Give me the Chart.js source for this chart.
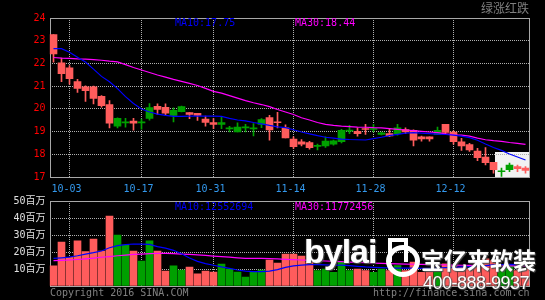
<!DOCTYPE html>
<html>
<head>
<meta charset="utf-8">
<script src="https://cdn.jsdelivr.net/npm/chart.js@4.4.0/dist/chart.umd.min.js"></script>
<style>
    html, body { margin: 0; padding: 0; background: #000; }
    #wrap { position: relative; width: 545px; height: 300px; overflow: hidden; background: #000; }
    canvas { position: absolute; left: 0; top: 0; }
    .txt { position: absolute; white-space: nowrap; font-family: 'DejaVu Sans Mono', 'Noto Sans CJK SC', monospace; font-size: 10px; line-height: 10px; }
    .marca { position: absolute; white-space: nowrap; color: #fff; text-shadow: 0 0 2px #444, 1px 1px 1px #555; }
    #caixaBranca { position: absolute; left: 495px; top: 152px; width: 34px; height: 25px; background: #f2f2f2; }
</style>
</head>
<body>
<div id="wrap">
    <div id="caixaBranca"></div>
    <canvas id="graficoPreco" width="545" height="300"></canvas>
    <canvas id="graficoVolume" width="545" height="300"></canvas>

    <div class="txt" style="left:175px;top:18px;color:#0000ff">MA10:17.75</div>
    <div class="txt" style="left:295px;top:18px;color:#ff00ff">MA30:18.44</div>
    <div class="txt" style="left:175px;top:202px;color:#0000ff">MA10:12552694</div>
    <div class="txt" style="left:295px;top:202px;color:#ff00ff">MA30:11772456</div>
    <div class="txt" style="left:481px;top:2px;color:#808080;font-size:12px;line-height:12px;font-family:'Noto Sans CJK SC'">绿涨红跌</div>
    <div class="txt" style="left:50px;top:288px;color:#808080">Copyright 2016 SINA.COM</div>
    <div class="txt" style="left:373px;top:288px;color:#808080">http://finance.sina.com.cn</div>

    <div class="marca" style="left:304px;top:232px;font:bold 34px 'Liberation Sans';letter-spacing:-1px">bylai</div>
    <div style="position:absolute;left:388px;top:238px;width:12px;height:20px;border:4px solid #fff;border-bottom:none"></div>
    <div style="position:absolute;left:386px;top:245px;width:24px;height:22px;border:5px solid #fff;border-radius:50%"></div>
    <div class="marca" style="left:421px;top:246px;font:bold 23px 'Noto Sans CJK SC';line-height:26px">宝亿来软装</div>
    <div class="marca" style="left:423px;top:273px;font:18px 'Liberation Sans';letter-spacing:-0.5px;line-height:20px">400-888-9937</div>
</div>
<script>
const fonte = "'DejaVu Sans Mono', 'Noto Sans CJK SC', monospace";

const posicoesDatas = [2, 11, 20, 30, 40, 50];
const rotulosDatas = ['10-03', '10-17', '10-31', '11-14', '11-28', '12-12'];

const abertura = [
    23.27, 22.03, 21.81, 21.20, 20.97, 20.97, 20.55, 20.19, 19.24, 19.38,
    19.46, 19.38, 19.58, 20.11, 20.07, 19.71, 19.88, 19.84, 19.80, 19.55,
    19.40, 19.32, 19.12, 18.98, 19.16, 19.12, 19.32, 19.62, 19.40, 19.16,
    18.67, 18.55, 18.52, 18.35, 18.37, 18.45, 18.55, 19.02, 19.01, 19.10,
    19.09, 18.87, 18.91, 18.91, 19.09, 19.06, 18.77, 18.77, 18.88, 19.32,
    18.98, 18.55, 18.43, 18.14, 17.88, 17.65, 17.23, 17.32, 17.46, 17.39
];
const maxima = [
    23.27, 22.24, 21.91, 21.30, 21.01, 21.00, 20.58, 20.36, 19.61, 19.58,
    19.58, 19.55, 20.23, 20.22, 20.22, 20.04, 20.12, 19.84, 19.80, 19.68,
    19.57, 19.63, 19.23, 19.39, 19.32, 19.35, 19.57, 19.71, 19.85, 19.30,
    18.77, 18.65, 18.57, 18.45, 18.77, 18.62, 19.10, 19.27, 19.17, 19.32,
    19.32, 18.98, 19.13, 19.32, 19.17, 19.08, 18.80, 18.77, 19.20, 19.32,
    19.03, 18.70, 18.48, 18.26, 18.30, 17.65, 17.39, 17.61, 17.53, 17.46
];
const minima = [
    22.06, 21.20, 21.09, 20.72, 20.33, 20.22, 20.07, 19.16, 19.16, 19.19,
    19.06, 19.11, 19.50, 19.75, 19.71, 19.42, 19.86, 19.57, 19.49, 19.24,
    19.13, 19.13, 18.98, 18.98, 18.98, 18.81, 19.17, 18.62, 19.16, 18.72,
    18.26, 18.37, 18.23, 18.19, 18.30, 18.40, 18.50, 18.91, 18.80, 18.88,
    18.98, 18.85, 18.78, 18.84, 18.91, 18.37, 18.58, 18.58, 18.88, 18.90,
    18.45, 18.17, 18.13, 17.72, 17.53, 17.17, 17.03, 17.24, 17.24, 17.17
];
const fechamento = [
    22.42, 21.55, 21.33, 20.90, 20.80, 20.46, 20.14, 19.37, 19.58, 19.39,
    19.37, 19.39, 20.06, 19.97, 19.81, 19.93, 20.10, 19.75, 19.71, 19.40,
    19.32, 19.40, 19.13, 19.20, 19.17, 19.13, 19.53, 19.07, 19.39, 18.72,
    18.33, 18.45, 18.29, 18.36, 18.58, 18.59, 19.06, 19.03, 18.91, 19.09,
    19.10, 18.94, 18.81, 19.17, 18.98, 18.62, 18.68, 18.68, 19.06, 18.96,
    18.55, 18.37, 18.19, 17.85, 17.63, 17.32, 17.24, 17.53, 17.37, 17.29
];
const ma10Preco = [
    22.65, 22.65, 22.49, 22.27, 22.06, 21.75, 21.43, 21.19, 20.89, 20.54,
    20.24, 19.99, 19.86, 19.77, 19.71, 19.67, 19.67, 19.68, 19.68, 19.68,
    19.68, 19.67, 19.58, 19.51, 19.47, 19.40, 19.34, 19.27, 19.21, 19.17,
    19.08, 18.98, 18.90, 18.82, 18.75, 18.71, 18.67, 18.65, 18.64, 18.63,
    18.69, 18.75, 18.82, 18.88, 18.93, 18.95, 18.93, 18.91, 18.89, 18.87,
    18.84, 18.80, 18.73, 18.62, 18.45, 18.30, 18.17, 18.01, 17.88, 17.75
];
const ma30Preco = [
    22.26, 22.23, 22.22, 22.20, 22.19, 22.17, 22.14, 22.10, 22.07, 21.95,
    21.82, 21.71, 21.60, 21.49, 21.40, 21.30, 21.21, 21.12, 21.03, 20.90,
    20.77, 20.69, 20.58, 20.47, 20.36, 20.27, 20.19, 20.10, 19.97, 19.86,
    19.75, 19.61, 19.51, 19.40, 19.32, 19.27, 19.24, 19.22, 19.20, 19.19,
    19.17, 19.16, 19.13, 19.10, 19.07, 19.04, 19.01, 18.98, 18.95, 18.90,
    18.86, 18.84, 18.80, 18.71, 18.64, 18.60, 18.57, 18.52, 18.48, 18.44
];

// volumes em milhoes
const volume = [
    11.8, 25.9, 16.9, 26.5, 20.2, 27.6, 20.6, 41.2, 30.0, 24.1,
    20.6, 14.7, 26.5, 20.6, 8.8, 11.8, 9.4, 11.2, 7.1, 8.8,
    8.2, 12.9, 10.0, 8.2, 5.3, 8.2, 9.4, 15.3, 13.5, 18.8,
    18.8, 17.6, 14.0, 9.0, 10.0, 8.0, 14.0, 9.0, 10.0, 9.0,
    8.0, 10.0, 9.0, 12.0, 9.0, 14.0, 8.0, 9.0, 10.0, 13.0,
    12.0, 11.0, 10.0, 14.0, 16.0, 15.0, 10.0, 12.0, 9.0, 10.0
];
const ma10Volume = [
    16.3, 16.6, 17.0, 17.8, 18.8, 19.6, 20.6, 22.5, 23.7, 24.3,
    24.7, 24.6, 24.5, 23.2, 22.3, 21.0, 19.0, 16.5, 14.5, 13.2,
    12.2, 11.2, 10.4, 9.4, 8.7, 8.4, 8.4, 8.8, 9.6, 11.0,
    11.8, 12.3, 12.6, 12.6, 12.4, 12.2, 12.3, 12.0, 11.6, 11.2,
    11.0, 10.8, 10.6, 10.5, 10.5, 10.6, 10.4, 10.4, 10.6, 10.8,
    11.0, 11.2, 11.4, 11.6, 12.0, 12.4, 12.6, 12.7, 12.6, 12.55
];
const ma30Volume = [
    14.9, 15.1, 15.3, 15.6, 16.0, 16.4, 16.9, 17.3, 17.8, 18.2,
    18.6, 18.8, 19.0, 19.2, 19.2, 19.1, 18.8, 18.6, 18.3, 18.0,
    17.6, 17.3, 17.0, 16.6, 16.3, 16.3, 16.3, 16.1, 15.9, 15.7,
    15.5, 15.3, 15.1, 14.9, 14.7, 14.5, 14.3, 14.1, 13.9, 13.7,
    13.5, 13.3, 13.2, 13.0, 12.9, 12.8, 12.7, 12.6, 12.5, 12.4,
    12.3, 12.2, 12.1, 12.0, 11.95, 11.9, 11.85, 11.8, 11.78, 11.77
];

const VERMELHO = '#ff5c5c';
const VERDE = '#00a000';
const GRADE = '#b0b0b0';

const dias = abertura.map((_, i) => {
    const k = posicoesDatas.indexOf(i);
    return k >= 0 ? rotulosDatas[k] : '';
});
// 绿涨红跌: verde sobe, vermelho cai
const cores = abertura.map((o, i) => fechamento[i] > o ? VERDE : VERMELHO);
const corpos = abertura.map((o, i) => [o, fechamento[i]]);
const sombras = minima.map((l, i) => [l, maxima[i]]);

const moldura = {
    id: 'moldura',
    beforeDatasetsDraw(chart) {
        const { ctx, chartArea: a } = chart;
        ctx.save();
        ctx.strokeStyle = '#a8a8a8';
        ctx.lineWidth = 1;
        ctx.strokeRect(a.left + 1, a.top + 0.5, a.right - a.left - 1, a.bottom - a.top);
        ctx.restore();
    }
};

function linhaMedia(data, cor) {
    return {
        type: 'line',
        data,
        borderColor: cor,
        borderWidth: 1.2,
        pointRadius: 0,
        tension: 0
    };
}

function eixoX(mostrarRotulos) {
    return {
        offset: true,
        grid: {
            offset: false,
            drawTicks: false,
            color: ctx => posicoesDatas.includes(ctx.index) ? GRADE : 'transparent'
        },
        border: { display: false, dash: [1, 1] },
        ticks: {
            display: mostrarRotulos,
            autoSkip: false,
            maxRotation: 0,
            color: '#3399ee',
            padding: 6,
            labelOffset: -3,
            font: { family: fonte, size: 10 },
            callback: (v, i) => dias[i]
        },
        afterFit: s => { s.height = mostrarRotulos ? 23 : 0; }
    };
}

function eixoY(min, max, cor, formato) {
    return {
        min,
        max,
        grid: {
            drawTicks: false,
            color: ctx => (ctx.tick.value === min || ctx.tick.value === max) ? 'transparent' : GRADE
        },
        border: { display: false, dash: [1, 1] },
        ticks: {
            stepSize: (max - min) / (max - min > 10 ? 5 : 7),
            color: cor,
            padding: 4,
            font: { family: fonte, size: 10 },
            callback: formato
        },
        afterFit: s => { s.width = 49.5; }
    };
}

function createChart(id, datasets, padding, scales) {
    const ctx = document.getElementById(id).getContext('2d');
    return new Chart(ctx, {
        type: 'bar',
        data: { labels: dias, datasets },
        options: {
            responsive: false,
            animation: false,
            layout: { padding },
            plugins: {
                legend: { display: false },
                tooltip: { enabled: false }
            },
            scales
        },
        plugins: [moldura]
    });
}

createChart('graficoPreco', [
    linhaMedia(ma10Preco, '#0000ff'),
    linhaMedia(ma30Preco, '#ff00ff'),
    { data: corpos, backgroundColor: cores, barThickness: 7, minBarLength: 1, grouped: false },
    { data: sombras, backgroundColor: cores, barThickness: 1, grouped: false }
], { left: 0, right: 15.5, top: 18, bottom: 100 }, {
    x: eixoX(true),
    y: eixoY(17, 24, '#ff0000', v => v)
});

createChart('graficoVolume', [
    linhaMedia(ma10Volume, '#0000ff'),
    linhaMedia(ma30Volume, '#ff00ff'),
    { data: volume, backgroundColor: cores, barThickness: 7, grouped: false }
], { left: 0, right: 15.5, top: 201, bottom: 14 }, {
    x: eixoX(false),
    y: eixoY(0, 50, '#e0e0e0', v => v === 0 ? '' : v + '百万')
});
</script>
</body>
</html>
